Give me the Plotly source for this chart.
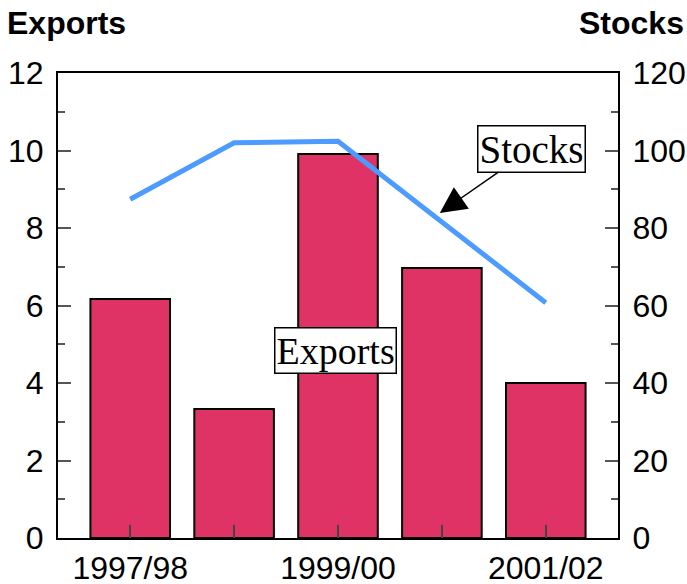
import plotly.graph_objects as go

categories = ["1997/98", "1998/99", "1999/00", "2000/01", "2001/02"]
tick_labels = ["1997/98", "", "1999/00", "", "2001/02"]
exports = [6.17, 3.33, 9.91, 6.97, 4.0]
stocks = [87.4, 102.0, 102.4, 81.5, 60.7]

xpos = list(range(len(categories)))

fig = go.Figure()
fig.add_trace(go.Bar(
    x=xpos, y=exports, width=0.766,
    marker=dict(color="#DF3366", line=dict(color="black", width=2)),
    yaxis="y", name="Exports", showlegend=False,
))
fig.add_trace(go.Scatter(
    x=xpos, y=stocks, mode="lines",
    line=dict(color="#4D9BFF", width=5),
    yaxis="y2", name="Stocks", showlegend=False,
))

tickfont = dict(family="Liberation Sans, Arial, sans-serif", size=32, color="black")

fig.update_layout(
    width=687, height=584,
    margin=dict(l=58, r=69, t=73, b=46, autoexpand=False),
    paper_bgcolor="white", plot_bgcolor="white",
    xaxis=dict(
        range=[-0.695, 4.695], tickvals=xpos, ticktext=tick_labels,
        showline=True, linecolor="black", linewidth=2, mirror=True,
        ticks="inside", ticklen=13, tickcolor="#444", tickwidth=1.5,
        showgrid=False, zeroline=False, tickfont=tickfont, automargin=False,
        ticklabelstandoff=1,
    ),
    yaxis=dict(
        range=[0, 12], dtick=2, tick0=0,
        showline=True, linecolor="black", linewidth=2,
        ticks="inside", ticklen=13, tickcolor="#555", tickwidth=1.5,
        minor=dict(dtick=1, ticks="inside", ticklen=7, tickcolor="#555", tickwidth=1.5),
        showgrid=False, zeroline=False, tickfont=tickfont, automargin=False,
        ticklabelstandoff=6,
    ),
    yaxis2=dict(
        range=[0, 120], dtick=20, tick0=0, overlaying="y", side="right",
        showline=True, linecolor="black", linewidth=2,
        ticks="inside", ticklen=13, tickcolor="#555", tickwidth=1.5,
        minor=dict(dtick=10, ticks="inside", ticklen=7, tickcolor="#555", tickwidth=1.5),
        showgrid=False, zeroline=False, tickfont=tickfont, automargin=False,
        ticklabelstandoff=6,
    ),
    annotations=[
        dict(text="<b>Exports</b>", xref="paper", yref="paper", x=-0.0947, y=1.107,
             xanchor="left", yanchor="middle", showarrow=False,
             font=dict(family="Liberation Sans, Arial, sans-serif", size=32, color="black")),
        dict(text="<b>Stocks</b>", xref="paper", yref="paper", x=1.122, y=1.107,
             xanchor="right", yanchor="middle", showarrow=False,
             font=dict(family="Liberation Sans, Arial, sans-serif", size=32, color="black")),
        dict(text="Stocks", x=2.98, y=83.9, xref="x", yref="y2",
             showarrow=True, ax=92, ay=-64, arrowhead=2, arrowsize=3.5, arrowwidth=1.5,
             arrowcolor="black", standoff=0,
             bgcolor="white", bordercolor="black", borderwidth=1.5, borderpad=1,
             font=dict(family="Liberation Serif, Times New Roman, serif", size=39, color="black")),
        dict(text="Exports", x=1.977, y=4.84, xref="x", yref="y",
             showarrow=False,
             bgcolor="white", bordercolor="black", borderwidth=1.5, borderpad=1,
             font=dict(family="Liberation Serif, Times New Roman, serif", size=38, color="black")),
    ],
)

fig.write_html(
    "out.html",
    config={"displayModeBar": False},
    post_script="document.body.style.margin='0';document.body.style.overflow='hidden';",
)
